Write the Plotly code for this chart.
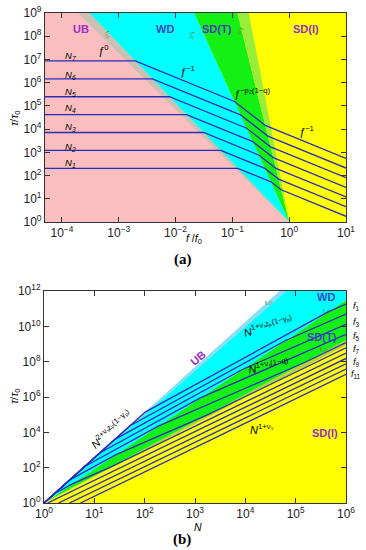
import math
import plotly.graph_objects as go

# ---------------- data ----------------
# scaling exponents of the four regimes (tau ~ N^e f^-s)
exp_UB = 2.56      # N^{2+nu_s z_p(1-gamma_p)}
exp_WD = 1.56      # N^{1+nu_s z_p(1-gamma_p)} f^-1
exp_ST = 1.24      # N^{1+nu_s(1-q)} f^{-p2(1-q)}
slope_ST = 1.90    # p2(1-q)
exp_SI = 1.38      # N^{1+nu_s} f^-1

N_values = [8, 16, 32, 64, 128, 256, 512]                 # N1..N7 (panel a)
N_names = ["N<sub>%d</sub>" % i for i in range(1, 8)]
f_values = [0.00977, 0.0195, 0.0391, 0.0781, 0.156, 0.3125, 0.625,
            1.25, 2.5, 5.0, 10.0]                          # f1..f11 (panel b)
f_names_shown = {0: "1", 2: "3", 4: "5", 6: "7", 8: "9", 10: "11"}

a_xrange = [-4.3, 1.0]   # log10 f/f0
a_yrange = [0.0, 9.0]    # log10 tau/tau0
b_xrange = [0.0, 6.0]    # log10 N
b_yrange = [0.0, 12.0]   # log10 tau/tau0

a_xticks = [-4, -3, -2, -1, 0, 1]
a_yticks = list(range(0, 10))
b_xticks = list(range(0, 7))
b_yticks = list(range(0, 13, 2))

# ---------------- model ----------------
k2 = (exp_ST - exp_WD) / (slope_ST - 1.0)   # WD/SD(T) crossover: lf = k2*L
k3 = (exp_SI - exp_ST) / (1.0 - slope_ST)   # SD(T)/SD(I) crossover: lf = k3*L


def log_tau(L, lf):
    if lf <= -L:
        return exp_UB * L
    if lf <= k2 * L:
        return exp_WD * L - lf
    if lf <= k3 * L:
        return exp_ST * L - slope_ST * lf
    return exp_SI * L - lf


# boundary slopes in (log f, log tau) plane (all through (1,1))
s1 = -exp_UB
s2 = exp_WD / k2 - 1.0
s3 = exp_SI / k3 - 1.0
# boundary exponents in (log N, log tau) plane
e1 = exp_UB
e2 = exp_WD - k2
e3 = exp_SI - k3

PINK = "#FABEBE"
CYAN = "#00FFFF"
GREEN = "#14F014"
YELLOW = "#FFFF00"
GRAY = "#C9C0B6"
LGREEN = "#98EE3A"
LBLUE = "#8FDCF6"
OLIVE = "#B9D23A"
LINE = "#2B2BC0"

fig = go.Figure()


def poly(xs, ys, color, xa, ya):
    fig.add_trace(go.Scatter(x=[10 ** v for v in xs], y=[10 ** v for v in ys],
                             mode="lines", fill="toself", fillcolor=color,
                             line=dict(width=0, color=color), hoverinfo="skip",
                             showlegend=False, xaxis=xa, yaxis=ya))


# ---------- panel (a) regions ----------
T = a_yrange[1]
x0, x1 = a_xrange
poly([x0, x1, x1, x0], [0, 0, T, T], YELLOW, "x", "y")
poly([x0, x0, T / s1, 0], [0, T, T, 0], PINK, "x", "y")
# grey crossover band on the UB side
poly([T / s1 - 0.2, T / s1, 0], [T, T, 0], GRAY, "x", "y")
poly([T / s1, T / s2, 0], [T, T, 0], CYAN, "x", "y")
poly([T / s2, T / s3, 0], [T, T, 0], GREEN, "x", "y")
poly([T / s3, T / s3 + 0.2, 0], [T, T, 0], LGREEN, "x", "y")

# ---------- panel (a) lines ----------
for N in N_values:
    L = math.log10(N)
    lfs = [x0, -L, k2 * L, k3 * L, x1]
    lfs = sorted(v for v in lfs if x0 <= v <= x1)
    fig.add_trace(go.Scatter(x=[10 ** v for v in lfs],
                             y=[10 ** log_tau(L, v) for v in lfs],
                             mode="lines", line=dict(color=LINE, width=1.3),
                             showlegend=False, hoverinfo="skip",
                             xaxis="x", yaxis="y"))

# ---------- panel (b) regions ----------
TB = b_yrange[1]
R = b_xrange[1]
poly([0, R, R], [0, R * e3, 0], YELLOW, "x2", "y2")
poly([0, R, R], [0, R * e3, R * (e3 - 0.045)], OLIVE, "x2", "y2")
poly([0, R, R], [0, R * e2, R * e3], GREEN, "x2", "y2")
poly([0, TB / e1, R, R], [0, TB, TB, R * e2], CYAN, "x2", "y2")
poly([0, TB / e1, TB / (e1 - 0.07)], [0, TB, TB], LBLUE, "x2", "y2")

# ---------- panel (b) lines ----------
for f in f_values:
    lf = math.log10(f)
    Ls = max(0.0, lf / exp_SI)
    pts = {Ls, R}
    for bp in (-lf, lf / k2, lf / k3):
        if Ls < bp < R:
            pts.add(bp)
    Lpts = sorted(pts)
    fig.add_trace(go.Scatter(x=[10 ** v for v in Lpts],
                             y=[10 ** log_tau(v, lf) for v in Lpts],
                             mode="lines", line=dict(color=LINE, width=1.3),
                             showlegend=False, hoverinfo="skip",
                             xaxis="x2", yaxis="y2"))

# ---------------- layout ----------------
W, H = 366, 550
ML, MR, MT, MB = 44, 20, 13, 47
PW, PH = W - ML - MR, H - MT - MB


def P(px, py):
    return dict(x=(px - ML) / PW, y=(H - MB - py) / PH, xref="paper", yref="paper")


def pw(v):
    return "10<sup>%s</sup>" % (str(v).replace("-", "\u2212"))


axis_common = dict(type="log", showgrid=False, zeroline=False, showline=True,
                   linecolor="#333333", linewidth=1, mirror="ticks",
                   ticks="inside", ticklen=5, tickcolor="#333333", automargin=False,
                   tickfont=dict(family="Liberation Sans, Arial", size=12,
                                 color="#222222"))

fig.update_layout(
    width=W, height=H, margin=dict(l=ML, r=MR, t=MT, b=MB, autoexpand=False),
    paper_bgcolor="white", plot_bgcolor="white", showlegend=False,
    xaxis=dict(axis_common, range=a_xrange, domain=[0.003, 1], anchor="y",
               tickvals=[10 ** v for v in a_xticks], ticktext=[pw(v) for v in a_xticks]),
    yaxis=dict(axis_common, range=a_yrange, domain=[(H - MB - 222) / PH, 1], anchor="x",
               tickvals=[10 ** v for v in a_yticks], ticktext=[pw(v) for v in a_yticks]),
    xaxis2=dict(axis_common, range=b_xrange, domain=[0, 1], anchor="y2",
                tickvals=[10 ** v for v in b_xticks], ticktext=[pw(v) for v in b_xticks]),
    yaxis2=dict(axis_common, range=b_yrange, domain=[0, (H - MB - 291) / PH], anchor="x2",
                tickvals=[10 ** v for v in b_yticks], ticktext=[pw(v) for v in b_yticks]),
)

SANS = "Liberation Sans, Arial"
ann = []


def txt(px, py, text, size=10, color="black", angle=0, family=SANS, **kw):
    d = P(px, py)
    d.update(text=text, showarrow=False, textangle=angle,
             xanchor="center", yanchor="middle",
             font=dict(family=family, size=size, color=color))
    d.update(kw)
    ann.append(d)


PURPLE = "#9630C8"
BLUE = "#3A48C4"
OLIVET = "#6E7A1E"

# panel (a) region labels
txt(81, 29, "<b>UB</b>", 11, PURPLE)
txt(165, 29, "<b>WD</b>", 11, BLUE)
txt(217, 29, "<b>SD(T)</b>", 11, "#4A3CC0")
txt(306, 29, "<b>SD(I)</b>", 11, PURPLE)
for name, py in zip(N_names, [163, 147, 127, 108, 92, 75, 56]):
    txt(70, py, "<i>%s</i>" % name, 9.5)
txt(103, 50, "<i>\u0192</i><sup>0</sup>", 11)
txt(187, 71, "<i>\u0192</i><sup>\u22121</sup>", 11)
txt(252, 93, "<i>\u0192</i><sup>\u2212p\u2082(1\u2212q)</sup>", 11)
txt(306, 131, "<i>\u0192</i><sup>\u22121</sup>", 11)
txt(108, 34, "<i>f</i><sub>c1</sub>", 6.5, OLIVET, angle=50)
txt(193, 35, "<i>f</i><sub>c2</sub>", 6.5, OLIVET, angle=66)
txt(241, 31, "<i>f</i><sub>c3</sub>", 6.5, OLIVET, angle=76)
txt(194, 239, "<i>f</i> /<i>f</i><sub>0</sub>", 10.5)
txt(15, 118, "<i>\u03c4</i>/<i>\u03c4</i><sub>0</sub>", 11, angle=-90)
txt(183, 259, "<b>(a)</b>", 15, family="Liberation Serif, Times New Roman")

# panel (b) labels
txt(111, 429, "<i>N</i><sup>2+\u03bd\u209bz\u209a(1\u2212\u03b3\u209a)</sup>", 11, angle=-42)
txt(268, 326, "<i>N</i><sup>1+\u03bd\u209bz\u209a(1\u2212\u03b3\u209a)</sup>", 11, angle=-15)
txt(268, 366, "<i>N</i><sup>1+\u03bd\u209b(1\u2212q)</sup>", 11, angle=-9)
txt(262, 429, "<i>N</i><sup>1+\u03bd\u209b</sup>", 11)
txt(198, 358, "<b>UB</b>", 11, PURPLE, angle=-40)
txt(326, 297, "<b>WD</b>", 11, BLUE)
txt(322, 337, "<b>SD(T)</b>", 11, BLUE)
txt(325, 433, "<b>SD(I)</b>", 11, PURPLE)
txt(268, 302, "<i>f</i><sub>c1</sub>", 6.5, OLIVET, angle=-42)
txt(326, 311, "<i>f</i><sub>c2</sub>", 6.5, OLIVET, angle=-34)
txt(323, 349, "<i>f</i><sub>c3</sub>", 6.5, OLIVET, angle=-28)
for (i, lab), py in zip(sorted(f_names_shown.items()), [306, 322, 336, 349, 362, 374]):
    txt(356, py, "<i>f</i><sub>%s</sub>" % lab, 9)
txt(198, 527, "<i>N</i>", 10.5)
txt(15, 396, "<i>\u03c4</i>/<i>\u03c4</i><sub>0</sub>", 11, angle=-90)
txt(182, 539, "<b>(b)</b>", 15, family="Liberation Serif, Times New Roman")

fig.update_layout(annotations=ann)
fig.write_html("out.html",
               config={"displayModeBar": False},
               post_script="document.body.style.margin='0px';"
                           "document.body.style.overflow='hidden';")
